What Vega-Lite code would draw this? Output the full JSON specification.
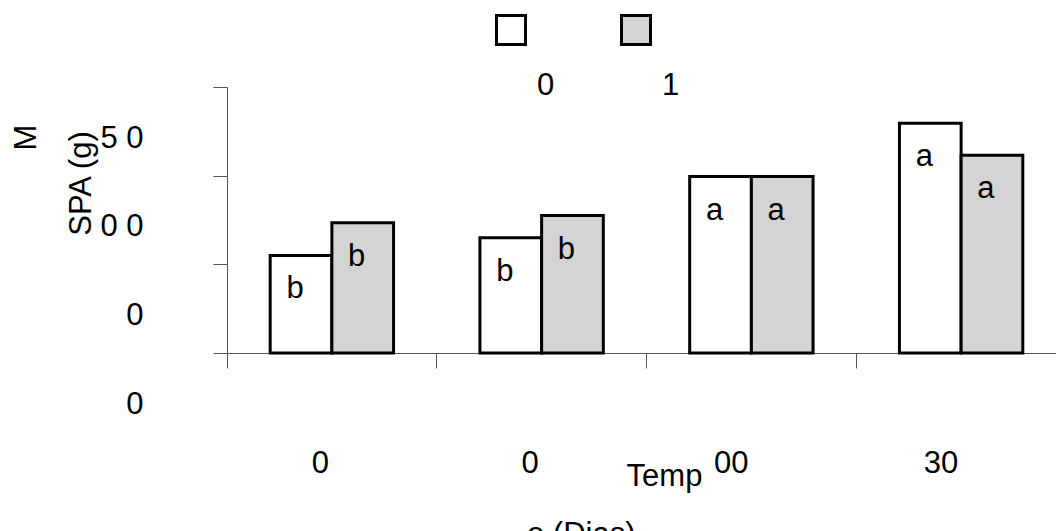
{
  "$schema": "https://vega.github.io/schema/vega-lite/v6.json",
  "width": 829,
  "height": 266,
  "autosize": {"type": "none"},
  "padding": {"left": 227, "top": 87, "right": 0, "bottom": 178},
  "background": "white",
  "config": {"view": {"stroke": null}, "font": "Liberation Sans"},
  "title": {"text": "o (Dias)", "orient": "bottom", "anchor": "start", "frame": "group", "dx": 300, "offset": 29, "fontSize": 31, "fontWeight": "normal", "color": "black", "font": "Liberation Sans"},
  "data": {"values": [
    {"Tempo": "T1", "grupo": "0", "valor": 55, "letra": "b"},
    {"Tempo": "T1", "grupo": "1", "valor": 73.5, "letra": "b"},
    {"Tempo": "T2", "grupo": "0", "valor": 65, "letra": "b"},
    {"Tempo": "T2", "grupo": "1", "valor": 77.5, "letra": "b"},
    {"Tempo": "T3", "grupo": "0", "valor": 99.5, "letra": "a"},
    {"Tempo": "T3", "grupo": "1", "valor": 99.5, "letra": "a"},
    {"Tempo": "T4", "grupo": "0", "valor": 129.5, "letra": "a"},
    {"Tempo": "T4", "grupo": "1", "valor": 111.5, "letra": "a"}
  ]},
  "encoding": {
    "x": {
      "field": "Tempo", "type": "nominal", "sort": null,
      "scale": {"range": [0, 839], "paddingInner": 0, "paddingOuter": 0},
      "axis": {
        "bandPosition": 0,
        "labelExpr": "datum.value == 'T1' ? '0' : datum.value == 'T2' ? '0' : datum.value == 'T3' ? '00' : '30'",
        "labelAngle": 0, "labelAlign": "right", "labelBaseline": "top",
        "labelOffset": -3, "labelPadding": 80, "labelFontSize": 31, "labelColor": "black", "labelFont": "Liberation Sans",
        "tickSize": 15, "tickColor": "#555", "domainColor": "#555", "grid": false,
        "title": "Temp", "titleX": 437, "titleY": 108, "titleAlign": "center", "titleBaseline": "top",
        "titleFontSize": 31, "titleFontWeight": "normal", "titleColor": "black", "titleFont": "Liberation Sans"
      }
    },
    "xOffset": {"field": "grupo", "type": "nominal", "scale": {"paddingInner": 0, "paddingOuter": 0.7}},
    "y": {
      "field": "valor", "type": "quantitative",
      "scale": {"domain": [0, 150], "nice": false},
      "axis": {
        "values": [0, 50, 100, 150],
        "labelExpr": "datum.value == 150 ? '5 0' : datum.value == 100 ? '0 0' : '0'",
        "labelBaseline": "top", "labelOffset": 36, "labelPadding": 70, "labelFontSize": 31, "labelColor": "black", "labelFont": "Liberation Sans",
        "tickSize": 14, "tickColor": "#555", "domainColor": "#555", "grid": false,
        "title": ["M", "SPA (g)\u2800\u2800\u2800\u2800"], "titleAngle": -90, "titleX": -216, "titleY": 50,
        "titleAlign": "center", "titleBaseline": "top", "titleLineHeight": 55,
        "titleFontSize": 31, "titleFontWeight": "normal", "titleColor": "black", "titleFont": "Liberation Sans"
      }
    }
  },
  "layer": [
    {
      "mark": {"type": "bar", "stroke": "black", "strokeWidth": 3},
      "encoding": {
        "fill": {
          "field": "grupo", "type": "nominal",
          "scale": {"domain": ["0", "1"], "range": ["white", "#d4d4d4"]},
          "legend": {
            "orient": "none", "legendX": 268, "legendY": -73, "direction": "horizontal", "title": null,
            "symbolType": "square", "symbolSize": 841, "symbolStrokeColor": "black", "symbolStrokeWidth": 3, "symbolOpacity": 1,
            "labelFontSize": 31, "labelFont": "Liberation Sans", "labelColor": "black",
            "labelExpr": "datum.label", "labelBaseline": "top", "labelOffset": 10,
            "columnPadding": 60, "padding": 0,
            "encode": {"labels": {"update": {"dy": {"value": 41}}}}
          }
        }
      }
    },
    {
      "mark": {"type": "text", "fontSize": 31, "font": "Liberation Sans", "baseline": "alphabetic", "dy": 43, "dx": -6, "fill": "black"},
      "encoding": {"text": {"field": "letra"}}
    }
  ]
}
